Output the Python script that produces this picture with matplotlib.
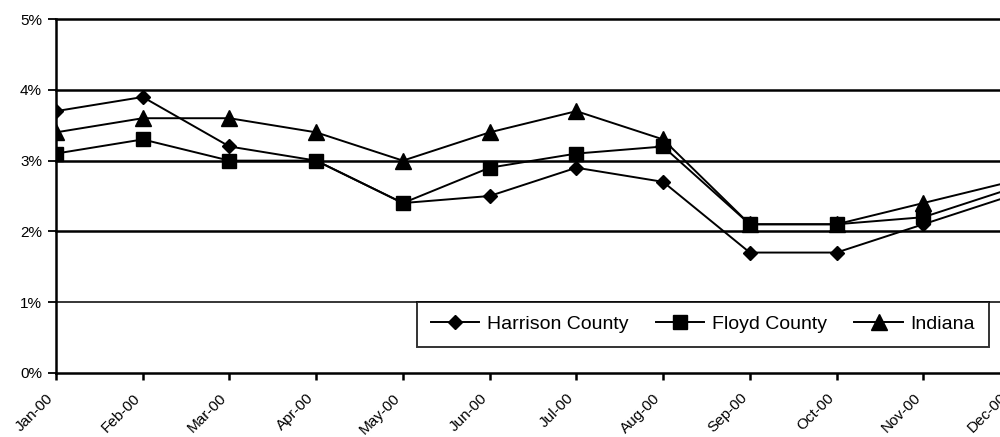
import matplotlib
matplotlib.use("Agg")
import matplotlib.pyplot as plt
import matplotlib.transforms as mtransforms
from matplotlib.ticker import FuncFormatter

plt.rcParams["font.family"] = ["Liberation Sans", "DejaVu Sans"]

months = ["Jan-00", "Feb-00", "Mar-00", "Apr-00", "May-00", "Jun-00",
          "Jul-00", "Aug-00", "Sep-00", "Oct-00", "Nov-00", "Dec-00"]
harrison = [3.7, 3.9, 3.2, 3.0, 2.4, 2.5, 2.9, 2.7, 1.7, 1.7, 2.1, 2.5]
floyd = [3.1, 3.3, 3.0, 3.0, 2.4, 2.9, 3.1, 3.2, 2.1, 2.1, 2.2, 2.6]
indiana = [3.4, 3.6, 3.6, 3.4, 3.0, 3.4, 3.7, 3.3, 2.1, 2.1, 2.4, 2.7]

fig = plt.figure(figsize=(10, 4.37), dpi=100)
# axes runs a little past the right edge, like the cropped original
ax = fig.add_axes([0.056, 0.147, 0.954, 0.809])

x = list(range(len(months)))
ax.plot(x, harrison, color="black", lw=1.4, marker="D", ms=7.5, label="Harrison County", zorder=3)
ax.plot(x, floyd, color="black", lw=1.4, marker="s", ms=10.5, label="Floyd County", zorder=3)
ax.plot(x, indiana, color="black", lw=1.4, marker="^", ms=11.5, label="Indiana", zorder=3)

ax.set_xlim(0, 11)
ax.set_ylim(0, 5)
ax.set_yticks([0, 1, 2, 3, 4, 5])
ax.yaxis.set_major_formatter(FuncFormatter(lambda v, p: "%d%%" % v))
ax.set_xticks(x)
ax.set_xticklabels(months, rotation=45, ha="right", fontsize=11)
shift = mtransforms.ScaledTranslation(-9 / 100, 0, fig.dpi_scale_trans)
for lab in ax.get_xticklabels():
    lab.set_transform(lab.get_transform() + shift)

for v in [2, 3, 4, 5]:
    ax.axhline(v, color="black", lw=1.8, zorder=1, clip_on=False)
ax.axhline(1, color="black", lw=1.1, zorder=1)

for s in ["top", "right"]:
    ax.spines[s].set_visible(False)
ax.spines["left"].set_linewidth(1.8)
ax.spines["bottom"].set_linewidth(1.8)
ax.tick_params(axis="y", direction="out", length=6, width=1.3, pad=4, labelsize=11)
ax.tick_params(axis="x", direction="out", length=5, width=1.8, pad=8)

leg = ax.legend(ncol=3, loc="upper left", bbox_to_anchor=(0.417, 1 - 302 / 437),
                bbox_transform=fig.transFigure, borderaxespad=0, frameon=True,
                fancybox=False, edgecolor="black", fontsize=14, handlelength=2.5,
                handletextpad=0.4, columnspacing=1.4, borderpad=0.7)
leg.get_frame().set_linewidth(1.4)
leg.set_zorder(5)

fig.savefig("out.png", dpi=100)
